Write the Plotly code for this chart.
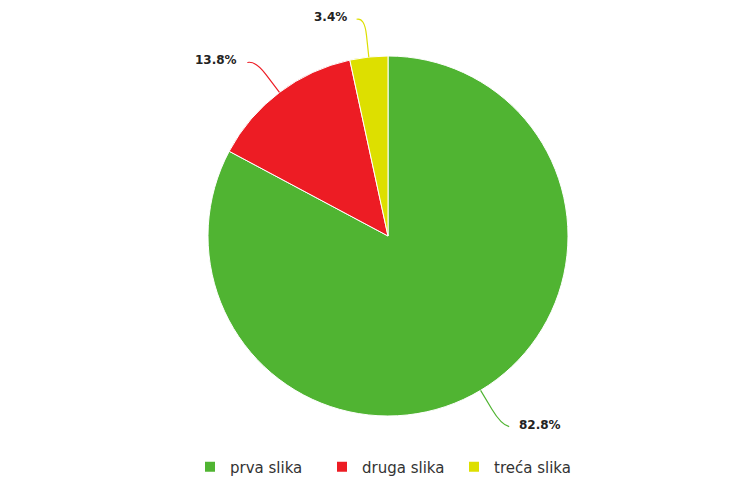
import math
import plotly.graph_objects as go

categories = ["prva slika", "druga slika", "treća slika"]
values = [82.8, 13.8, 3.4]
colors = ["#50B432", "#ED1C24", "#DDDF00"]
label_texts = ["82.8%", "13.8%", "3.4%"]

# page body has an 8px default margin, so the figure is offset by 8px
OFF = 8
W, H = 752, 481
ML, MR, MT, MB = 8, 0, 56 - OFF, 65 + OFF
PW, PH = W - ML - MR, H - MT - MB
CX = ML + PW / 2
CY = MT + PH / 2
R = min(PW, PH) / 2


def px2paper(x, y):
    return (x - ML) / PW, (H - MB - y) / PH


fig = go.Figure()
fig.add_trace(go.Pie(
    labels=categories, values=values, sort=False, direction="clockwise",
    rotation=0, marker=dict(colors=colors, line=dict(color="white", width=1)),
    textinfo="none", hoverinfo="label+percent",
    domain=dict(x=[0, 1], y=[0, 1]),
))

total = sum(values)
cum = 0.0
shapes, annotations = [], []
for v, c, t in zip(values, colors, label_texts):
    mid = (cum + v / 2) / total
    cum += v
    th = 2 * math.pi * mid
    s, co = math.sin(th), math.cos(th)
    side = 1 if s >= 0 else -1
    p0 = px2paper(CX + R * s, CY - R * co)
    p1 = px2paper(CX + (R + 22) * s, CY - (R + 22) * co)
    pcx, pcy = CX + (R + 40) * s, CY - (R + 40) * co
    pc = px2paper(pcx, pcy)
    p2 = px2paper(pcx + 8 * side, pcy + 2)
    pt = px2paper(pcx + 16 * side, pcy)
    path = f"M {p0[0]},{p0[1]} L {p1[0]},{p1[1]} Q {pc[0]},{pc[1]} {p2[0]},{p2[1]}"
    shapes.append(dict(type="path", path=path, xref="paper", yref="paper",
                       line=dict(color=c, width=1.2)))
    annotations.append(dict(
        x=pt[0], y=pt[1], xref="paper", yref="paper", text=f"<b>{t}</b>",
        showarrow=False, xanchor="left" if side > 0 else "right", yanchor="middle",
        font=dict(family="DejaVu Sans", size=12, color="#222222"),
    ))

fig.update_layout(
    width=W, height=H,
    margin=dict(l=ML, r=MR, t=MT, b=MB, pad=0),
    paper_bgcolor="white", plot_bgcolor="white",
    shapes=shapes, annotations=annotations,
    showlegend=True,
    legend=dict(orientation="h", x=(388 - OFF - ML) / PW, xanchor="center",
                y=-(467 - OFF - (H - MB)) / PH, yanchor="middle",
                entrywidth=87, entrywidthmode="pixels",
                font=dict(family="DejaVu Sans", size=15, color="#333333"),
                itemsizing="constant"),
)

fig.write_html("out.html")
